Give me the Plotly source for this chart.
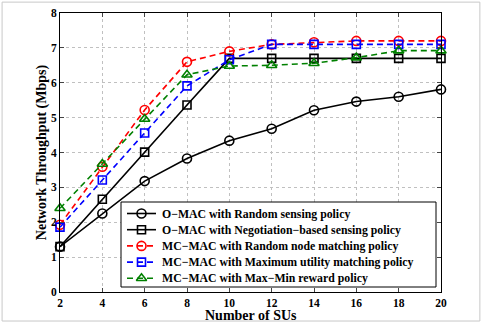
import plotly.graph_objects as go

x_sus = [2, 4, 6, 8, 10, 12, 14, 16, 18, 20]
omac_random = [1.3, 2.25, 3.18, 3.83, 4.34, 4.68, 5.21, 5.46, 5.6, 5.81]
omac_negotiation = [1.3, 2.66, 4.01, 5.36, 6.7, 6.7, 6.7, 6.7, 6.7, 6.7]
mcmac_random = [1.93, 3.59, 5.22, 6.6, 6.9, 7.1, 7.16, 7.2, 7.2, 7.2]
mcmac_maxutil = [1.86, 3.21, 4.56, 5.91, 6.66, 7.1, 7.1, 7.1, 7.1, 7.1]
mcmac_maxmin = [2.4, 3.67, 4.96, 6.23, 6.48, 6.5, 6.56, 6.72, 6.92, 6.92]

x_title = "Number of SUs"
y_title = "Network Throughput (Mbps)"
names = [
    "O\u2212MAC with Random sensing policy",
    "O\u2212MAC with Negotiation\u2212based sensing policy",
    "MC\u2212MAC with Random node matching policy",
    "MC\u2212MAC with Maximum utility matching policy",
    "MC\u2212MAC with Max\u2212Min reward policy",
]
series = [omac_random, omac_negotiation, mcmac_random, mcmac_maxutil, mcmac_maxmin]
colors = ["black", "black", "#ff0000", "#0000ff", "#008000"]
symbols = ["circle-open", "square-open", "circle-open", "square-open", "triangle-up-open"]
dashes = ["solid", "solid", "6px,4px", "6px,4px", "6px,4px"]
sizes = [9, 8, 9, 8, 9]

font_fam = "Liberation Serif"
fig = go.Figure()
for n, s, c, sym, d, sz in zip(names, series, colors, symbols, dashes, sizes):
    fig.add_trace(go.Scatter(
        x=x_sus, y=s, name=n, mode="lines+markers", showlegend=False,
        cliponaxis=False,
        line=dict(color=c, width=1.6, dash=d),
        marker=dict(symbol=sym, size=sz, color=c, line=dict(width=1.6, color=c)),
    ))

# Custom legend drawn on an overlay axis measured in pixels of the plot area
L, R, T, B = 60, 441, 13, 292
box_x0, box_x1, box_y0, box_y1 = 121, 436, 202, 287
row_y0, row_step = 213.5, 16.2
glyph_x0, glyph_x1, text_x = 127, 156, 160

fig.add_trace(go.Scatter(
    x=[box_x0, box_x1, box_x1, box_x0, box_x0],
    y=[box_y0, box_y0, box_y1, box_y1, box_y0],
    xaxis="x2", yaxis="y2", mode="lines", fill="toself",
    fillcolor="white", line=dict(color="black", width=1),
    showlegend=False, hoverinfo="skip",
))
annotations = []
for i, (n, c, sym, d, sz) in enumerate(zip(names, colors, symbols, dashes, sizes)):
    ry = row_y0 + i * row_step
    fig.add_trace(go.Scatter(
        x=[glyph_x0, glyph_x1], y=[ry, ry], xaxis="x2", yaxis="y2",
        mode="lines", line=dict(color=c, width=1.6, dash=d),
        showlegend=False, hoverinfo="skip",
    ))
    fig.add_trace(go.Scatter(
        x=[(glyph_x0 + glyph_x1) / 2], y=[ry], xaxis="x2", yaxis="y2",
        mode="markers",
        marker=dict(symbol=sym, size=sz, color=c, line=dict(width=1.6, color=c)),
        showlegend=False, hoverinfo="skip",
    ))
    annotations.append(dict(
        x=text_x, y=ry, xref="x2", yref="y2", text=n, showarrow=False,
        xanchor="left", yanchor="middle",
        font=dict(family=font_fam, size=11.8, color="black", weight="bold"),
    ))

# x-axis title as an annotation (placed just under the tick labels)
annotations.append(dict(
    x=0.5, y=0, xref="paper", yref="paper", text=x_title, showarrow=False,
    xanchor="center", yanchor="middle", yshift=-23,
    font=dict(family=font_fam, size=14, color="black", weight="bold"),
))

fig.update_layout(
    width=483, height=322,
    margin=dict(l=L, r=483 - R, t=T, b=322 - B),
    paper_bgcolor="white", plot_bgcolor="white",
    font=dict(family=font_fam, color="black"),
    showlegend=False,
    annotations=annotations,
    xaxis2=dict(overlaying="x", range=[L, R], visible=False, fixedrange=True,
                automargin=False),
    yaxis2=dict(overlaying="y", range=[B, T], visible=False, fixedrange=True,
                automargin=False),
    shapes=[dict(type="rect", xref="paper", yref="paper",
                 x0=-0.152, x1=1.102, y0=-0.104, y1=1.039,
                 line=dict(color="#c8c8c8", width=1), layer="below")],
)
fig.layout.xaxis.update(
    range=[2, 20], tickvals=x_sus, ticks="inside", ticklen=4,
    showline=True, linecolor="black", linewidth=1, mirror="ticks",
    showgrid=True, gridcolor="#c0c0c0", griddash="dot", gridwidth=1,
    zeroline=False, automargin=False,
    tickfont=dict(family=font_fam, size=11.5, color="black", weight="bold"),
)
fig.layout.yaxis.update(
    range=[0, 8], dtick=1, ticks="inside", ticklen=4,
    showline=True, linecolor="black", linewidth=1, mirror="ticks",
    showgrid=True, gridcolor="#c0c0c0", griddash="dot", gridwidth=1,
    zeroline=False, automargin=False,
    tickfont=dict(family=font_fam, size=11.5, color="black", weight="bold"),
    title=dict(text=y_title, standoff=1,
               font=dict(family=font_fam, size=14, color="black", weight="bold")),
)
fig.write_html("out.html")
